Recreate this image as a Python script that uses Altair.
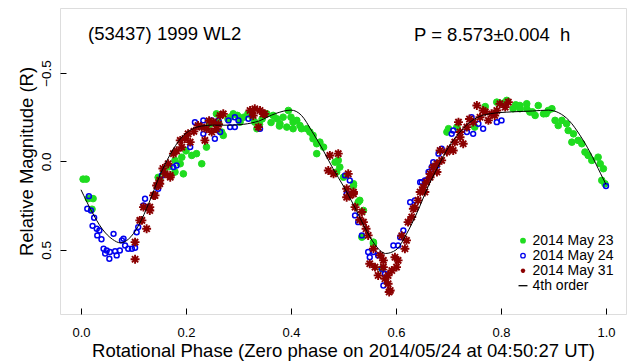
import altair as alt
import pandas as pd

# ---------------- data ----------------
g_phase = [0.004, 0.010, 0.014, 0.023, 0.021,
           0.147, 0.150, 0.158, 0.179, 0.179, 0.189, 0.192, 0.195, 0.211, 0.220, 0.230, 0.239, 0.258, 0.268,
           0.271, 0.280, 0.290, 0.303, 0.310, 0.318, 0.331, 0.335, 0.345, 0.354, 0.362, 0.373, 0.379, 0.385,
           0.392, 0.395, 0.404, 0.404, 0.411, 0.417, 0.420, 0.430, 0.436, 0.442, 0.442, 0.449, 0.449, 0.455,
           0.462, 0.484, 0.487, 0.490, 0.493, 0.500, 0.519, 0.519, 0.528, 0.531, 0.535, 0.538, 0.557, 0.557,
           0.573,
           0.697, 0.700, 0.716, 0.750, 0.792, 0.811, 0.823, 0.836, 0.836, 0.849, 0.849, 0.855, 0.865, 0.871,
           0.881, 0.890, 0.897, 0.903, 0.909, 0.916, 0.925, 0.928, 0.938, 0.935, 0.947, 0.954, 0.960, 0.966,
           0.973, 0.985, 0.989, 0.995, 0.992, 0.998,
           0.245, 0.262, 0.284, 0.298, 0.326, 0.340, 0.366, 0.378, 0.400, 0.770, 0.805, 0.828, 0.860, 0.886,
           0.168, 0.200]
g_mag = [0.10, 0.10, 0.21, 0.21, 0.27,
         0.09, 0.10, 0.06, 0.06, -0.006, 0.013, -0.024, 0.07, -0.034, -0.044, 0.013, -0.081, -0.269, -0.166,
         -0.147, -0.24, -0.269, -0.222, -0.25, -0.27, -0.222, -0.185, -0.24, -0.269, -0.22, -0.241, -0.213, -0.25,
         -0.194, -0.288, -0.222, -0.185, -0.232, -0.203, -0.185, -0.185, -0.166, -0.147, -0.128, -0.10, -0.044, -0.109,
         -0.081, 0.004, 0.06, -0.006, 0.032, 0.089, 0.126, 0.136, 0.23, 0.22, 0.428, 0.277, 0.456, 0.465,
         0.606,
         -0.166, -0.185, -0.194, -0.194, -0.335, -0.345, -0.298, -0.316, -0.298, -0.298, -0.326, -0.279, -0.26, -0.316,
         -0.269, -0.288, -0.298, -0.232, -0.203, -0.232, -0.213, -0.175, -0.156, -0.109, -0.119, -0.10, -0.053, -0.034,
         -0.006, -0.024, 0.013, 0.041, 0.107, 0.126,
         -0.21, -0.22, -0.25, -0.26, -0.25, -0.21, -0.26, -0.20, -0.25, -0.31, -0.33, -0.32, -0.28, -0.27,
         0.03, -0.06]

b_phase = [0.015, 0.012, 0.019, 0.025, 0.022, 0.030, 0.035, 0.031, 0.039, 0.062, 0.043, 0.049, 0.046, 0.054,
           0.055, 0.065, 0.068, 0.074, 0.078, 0.081, 0.084, 0.090, 0.097, 0.103, 0.106, 0.109, 0.119, 0.122,
           0.125, 0.147, 0.154, 0.176, 0.182,
           0.208, 0.217, 0.233, 0.233, 0.255, 0.265, 0.249, 0.262, 0.281, 0.293, 0.300, 0.284, 0.293, 0.319, 0.341,
           0.503, 0.512, 0.506, 0.522, 0.528, 0.535, 0.547, 0.550, 0.557, 0.566, 0.573, 0.579, 0.576, 0.595,
           0.604, 0.608, 0.614, 0.627, 0.636, 0.646, 0.655, 0.662, 0.671, 0.678,
           0.649, 0.658, 0.668, 0.681, 0.687, 0.706, 0.709, 0.735, 0.744, 0.757, 0.766, 0.792, 0.801, 0.747,
           1.000]
b_mag = [0.196, 0.267, 0.277, 0.318, 0.364, 0.38, 0.39, 0.418, 0.44, 0.409, 0.493, 0.503, 0.52, 0.55,
         0.512, 0.507, 0.531, 0.503, 0.446, 0.437, 0.475, 0.493, 0.493, 0.488, 0.40, 0.371, 0.249, 0.211,
         0.258, 0.154, 0.079, 0.032, 0.023,
         -0.081, -0.222, -0.232, -0.156, -0.128, -0.166, -0.232, -0.232, -0.232, -0.25, -0.232, -0.194, -0.194, -0.241, -0.185,
         0.079, 0.107, 0.183, 0.305, 0.343, 0.418, 0.512, 0.541, 0.512, 0.531, 0.606, 0.635, 0.701, 0.475,
         0.475, 0.428, 0.39, 0.23, 0.22, 0.117, 0.107, 0.06, 0.004, 0.023,
         0.117, 0.107, 0.032, -0.044, -0.072, -0.156, -0.175, -0.166, -0.25, -0.213, -0.185, -0.222, -0.232, -0.156,
         0.139]

r_phase = [0.103, 0.103, 0.112, 0.116, 0.125, 0.119, 0.131, 0.131, 0.138, 0.141, 0.144, 0.147, 0.150, 0.150,
           0.160, 0.166, 0.170, 0.170, 0.176, 0.189, 0.192, 0.204, 0.208, 0.223, 0.230, 0.236, 0.239, 0.249,
           0.252, 0.258, 0.265, 0.271, 0.322, 0.328, 0.331, 0.338, 0.341, 0.347, 0.350,
           0.471, 0.474, 0.481, 0.490, 0.506, 0.506, 0.509, 0.512, 0.519, 0.519, 0.522, 0.535, 0.538, 0.547,
           0.550, 0.557, 0.560, 0.566, 0.576, 0.576, 0.579, 0.585, 0.585, 0.587, 0.589, 0.592, 0.598, 0.601,
           0.604, 0.617, 0.620, 0.623, 0.630, 0.633, 0.642, 0.646, 0.652, 0.658, 0.665, 0.671, 0.678,
           0.655, 0.665, 0.678, 0.684, 0.687, 0.697, 0.703, 0.709, 0.712, 0.719, 0.722, 0.722, 0.728, 0.735,
           0.747, 0.754, 0.760, 0.766, 0.776, 0.782, 0.792, 0.798, 0.808, 0.814,
           0.156, 0.182, 0.198, 0.215, 0.244, 0.262, 0.531, 0.543, 0.570, 0.611, 0.636, 0.740, 0.770, 0.788]
r_mag = [0.456, 0.553, 0.333, 0.333, 0.38, 0.258, 0.277, 0.258, 0.192, 0.192, 0.136, 0.136, 0.107, 0.126,
         0.07, 0.013, 0.079, 0.089, -0.044, -0.119, -0.081, -0.156, -0.109, -0.203, -0.194, -0.119, -0.185, -0.166,
         -0.222, -0.185, -0.26, -0.269, -0.288, -0.26, -0.298, -0.194, -0.288, -0.269, -0.269,
         0.051, -0.034, 0.07, -0.044, 0.154, 0.202, 0.07, 0.192, 0.173, 0.183, 0.258, 0.286, 0.343, 0.418,
         0.578, 0.493, 0.597, 0.644, 0.597, 0.559, 0.663, 0.691, 0.644, 0.738, 0.729, 0.616, 0.541, 0.597,
         0.559, 0.493, 0.446, 0.343, 0.314, 0.267, 0.22, 0.173, 0.145, 0.117, 0.07, 0.032, 0.013,
         0.173, 0.089, 0.06, -0.062, -0.006, -0.053, -0.072, -0.062, -0.109, -0.222, -0.137, -0.166, -0.10, -0.194,
         -0.222, -0.316, -0.25, -0.288, -0.232, -0.269, -0.288, -0.326, -0.307, -0.335,
         0.04, -0.06, -0.13, -0.17, -0.23, -0.21, 0.33, 0.38, 0.53, 0.42, 0.26, -0.24, -0.28, -0.26]

fit_phase = [0.00, 0.02, 0.04, 0.06, 0.075, 0.09, 0.11, 0.13, 0.15, 0.17, 0.19, 0.21, 0.23, 0.25, 0.28,
             0.31, 0.34, 0.37, 0.40, 0.42, 0.44, 0.46, 0.48, 0.50, 0.52, 0.54, 0.56, 0.58, 0.60, 0.62,
             0.64, 0.66, 0.68, 0.70, 0.72, 0.74, 0.76, 0.78, 0.82, 0.86, 0.89, 0.91, 0.93, 0.95, 0.97,
             0.99, 1.00]
fit_mag = [0.16, 0.28, 0.38, 0.44, 0.46, 0.44, 0.36, 0.23, 0.08, -0.04, -0.13, -0.18, -0.20, -0.205, -0.205,
           -0.21, -0.23, -0.27, -0.29, -0.26, -0.17, -0.07, 0.04, 0.14, 0.25, 0.37, 0.47, 0.52, 0.50, 0.41,
           0.29, 0.15, 0.03, -0.08, -0.16, -0.22, -0.255, -0.27, -0.28, -0.285, -0.29, -0.275, -0.23, -0.15, -0.05,
           0.07, 0.13]

series_names = ["2014 May 23", "2014 May 24", "2014 May 31", "4th order"]
x_ticks = [0.0, 0.2, 0.4, 0.6, 0.8, 1.0]
y_ticks = [-0.5, 0.0, 0.5]
object_label = "(53437) 1999 WL2"
period_label = "P = 8.573\u00b10.004\u00a0\u00a0h"
x_title = "Rotational Phase (Zero phase on 2014/05/24 at 04:50:27 UT)"
y_title = "Relative Magnitude (R)"

# ---------------- styling ----------------
FONT = "Liberation Sans"
ASTERISK = "M-1,0L1,0M0,-1L0,1M-0.7,-0.7L0.7,0.7M-0.7,0.7L0.7,-0.7"
LINE_SYM = "M-2,0L2,0"
stroke_range = ["#1fdc1f", "#0000ee", "#8b0000", "#000000"]
fill_range = ["#1fdc1f", "transparent", "transparent", "transparent"]
shape_range = ["circle", "circle", ASTERISK, LINE_SYM]

df = pd.concat([
    pd.DataFrame({"phase": g_phase, "mag": g_mag, "series": series_names[0]}),
    pd.DataFrame({"phase": b_phase, "mag": b_mag, "series": series_names[1]}),
    pd.DataFrame({"phase": r_phase, "mag": r_mag, "series": series_names[2]}),
], ignore_index=True)
fit_df = pd.DataFrame({"phase": fit_phase, "mag": fit_mag})

xscale = alt.Scale(domain=[-0.04, 1.0381], nice=False, zero=False)
yscale = alt.Scale(domain=[-0.867, 0.862], nice=False, zero=False, reverse=True)

xaxis = alt.Axis(values=x_ticks, format=".1f", title=x_title, offset=-6, tickSize=6, domain=False,
                 grid=False, labelPadding=22, labelBaseline="alphabetic", labelFontSize=13,
                 labelFlush=False, labelOverlap=False, titleFontSize=18.5, titleFontWeight="normal",
                 titleX=283, titleY=48, titleBaseline="alphabetic", titleAlign="center",
                 labelColor="black", tickColor="black", titleColor="black", labelFont=FONT, titleFont=FONT)
yaxis = alt.Axis(values=y_ticks, format=".1f", title=y_title, offset=-6, tickSize=6, domain=False,
                 grid=False, labelAngle=270, labelAlign="center", labelBaseline="alphabetic",
                 labelPadding=10, labelFontSize=13.5, labelFlush=False, labelOverlap=False,
                 titleFontSize=18.5, titleFontWeight="normal", titleAngle=270, titleX=-34, titleY=153,
                 titleBaseline="alphabetic", titleAlign="center",
                 labelColor="black", tickColor="black", titleColor="black", labelFont=FONT, titleFont=FONT)

leg = alt.Legend(title=None, orient="none", legendX=456, legendY=225.7, labelFontSize=14, labelFont=FONT,
                 labelColor="black", symbolSize=20, symbolStrokeWidth=1.3, rowPadding=1, labelOffset=2.5,
                 padding=0)

enc_common = dict(
    x=alt.X("phase:Q", scale=xscale, axis=xaxis),
    y=alt.Y("mag:Q", scale=yscale, axis=yaxis),
    shape=alt.Shape("series:N", scale=alt.Scale(domain=series_names, range=shape_range), legend=leg),
    fill=alt.Fill("series:N", scale=alt.Scale(domain=series_names, range=fill_range), legend=leg),
    stroke=alt.Stroke("series:N", scale=alt.Scale(domain=series_names, range=stroke_range), legend=leg),
)

base = alt.Chart(df)
green = base.transform_filter(alt.datum.series == series_names[0]).mark_point(
    opacity=1, size=44, strokeWidth=1).encode(**enc_common)
blue = base.transform_filter(alt.datum.series == series_names[1]).mark_point(
    opacity=1, size=24, strokeWidth=1.5).encode(**enc_common)
red = base.transform_filter(alt.datum.series == series_names[2]).mark_point(
    opacity=1, size=80, strokeWidth=1.9).encode(**enc_common)

fit = alt.Chart(fit_df).mark_line(color="black", strokeWidth=1, interpolate="monotone").encode(
    x=alt.X("phase:Q", scale=xscale, axis=xaxis),
    y=alt.Y("mag:Q", scale=yscale, axis=yaxis),
)

t1 = alt.Chart(pd.DataFrame({"t": [object_label]})).mark_text(
    align="left", baseline="alphabetic", fontSize=18.5, font=FONT, color="black").encode(
    x=alt.value(28), y=alt.value(31.5), text="t:N")
t2 = alt.Chart(pd.DataFrame({"t": [period_label]})).mark_text(
    align="left", baseline="alphabetic", fontSize=18.5, font=FONT, color="black").encode(
    x=alt.value(354), y=alt.value(32.5), text="t:N")

chart = alt.layer(green, blue, red, fit, t1, t2).properties(
    width=566, height=306,
    autosize=alt.AutoSizeParams(type="none"),
    padding={"left": 60, "top": 8, "right": 3, "bottom": 48},
    background="white",
).configure_view(stroke="black", strokeWidth=1, fill="white").configure(font=FONT)

chart.save("out.html", embed_options={"renderer": "svg", "actions": False})
